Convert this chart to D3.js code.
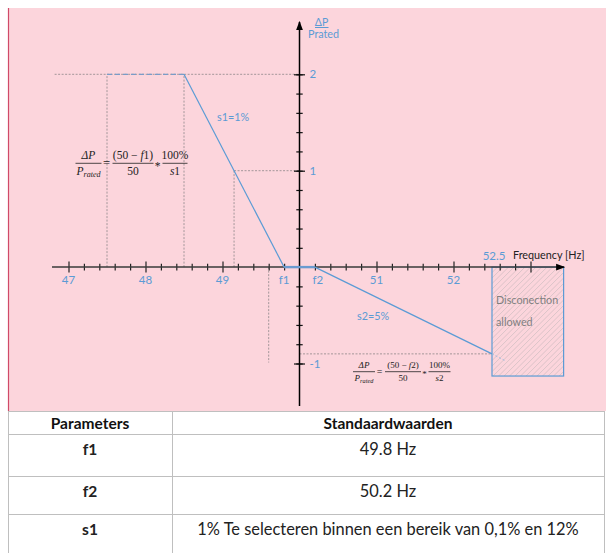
<!DOCTYPE html>
<html>
<head>
<meta charset="utf-8">
<script src="https://cdn.jsdelivr.net/npm/d3@7/dist/d3.min.js"></script>
<style>
  html, body { margin: 0; padding: 0; background: #ffffff; }
  svg { display: block; }
  text { font-family: Lato, "Open Sans", sans-serif; }
  .math { font-family: "Liberation Serif", "DejaVu Serif", serif; }
</style>
</head>
<body>
<svg id="chart" width="606" height="553"></svg>
<script>
// ---- data ----------------------------------------------------------------
const freqMajor = [47, 48, 49, 50, 51, 52, 53];
const freqMinor = d3.range(47, 53.001, 0.2).map(v => +v.toFixed(1));
const freqLabels = [
  { f: 47, text: "47" }, { f: 48, text: "48" }, { f: 49, text: "49" },
  { f: 49.8, text: "f1" }, { f: 50.2, text: "f2" },
  { f: 51, text: "51" }, { f: 52, text: "52" }
];
const powerMajor = [-1, 1, 2];
const powerMinor = d3.range(-1, 2.001, 0.2).map(v => +v.toFixed(1)).filter(v => v !== 0);
const powerLabels = [{ p: 2, text: "2" }, { p: 1, text: "1" }, { p: -1, text: "-1" }];

const plateau     = [{ f: 47.5, p: 2 }, { f: 48.5, p: 2 }];
const droopUnder  = [{ f: 48.5, p: 2 }, { f: 49.8, p: 0 }];
const deadBand    = [{ f: 49.8, p: 0 }, { f: 50.2, p: 0 }];
const droopOver   = [{ f: 50.2, p: 0 }, { f: 52.5, p: -0.9 }];
const droopBeyond = [{ f: 52.5, p: -0.9 }, { f: 52.68, p: -0.975 }];

// construction guides [f0, p0, f1, p1]
const guides = [
  [46.82, 2, 50, 2],
  [47.5, 0, 47.5, 2],
  [48.5, 0, 48.5, 2],
  [49.15, 0, 49.15, 1],
  [49.15, 1, 50, 1],
  [49.6, 0, 49.6, -0.99],
  [50, -0.9, 52.5, -0.9]
];
const disconnectZone = { f0: 52.5, f1: 53.43, p0: 0, p1: -1.13 };

const tableHeader = ["Parameters", "Standaardwaarden"];
const tableRows = [
  ["f1", "49.8 Hz"],
  ["f2", "50.2 Hz"],
  ["s1", "1% Te selecteren binnen een bereik van 0,1% en 12%"]
];

// ---- layout --------------------------------------------------------------
const svg = d3.select("#chart");
const blue = "#5b9bd5";
const x = d3.scaleLinear().domain([47, 53]).range([68.5, 530.5]);
const y = d3.scaleLinear().domain([2, -1]).range([74.3, 363.5]);
const x0 = x(50), y0 = y(0);

// pink panel
svg.append("rect").attr("x", 8).attr("y", 8).attr("width", 598).attr("height", 403)
  .attr("fill", "#fcd5dc");
svg.append("line").attr("x1", 8.5).attr("x2", 8.5).attr("y1", 8).attr("y2", 411)
  .attr("stroke", "#d04a68").attr("stroke-width", 1.2);

const defs = svg.append("defs");
defs.append("marker").attr("id", "arrow").attr("viewBox", "0 0 8 8")
  .attr("refX", 7).attr("refY", 4).attr("markerWidth", 6).attr("markerHeight", 6)
  .attr("orient", "auto")
  .append("path").attr("d", "M0,1 L8,4 L0,7 Z").attr("fill", "#000");

const line = d3.line().x(d => x(d.f)).y(d => y(d.p));

// guides
svg.append("g").selectAll("line").data(guides).join("line")
  .attr("x1", d => x(d[0])).attr("y1", d => y(d[1]))
  .attr("x2", d => x(d[2])).attr("y2", d => y(d[3]))
  .attr("stroke", "#9a8e92").attr("stroke-width", 0.9).attr("stroke-dasharray", "2,1.5");

// disconnection zone: hatched box
const z = disconnectZone;
const zx = x(z.f0), zy = y(z.p0), zw = x(z.f1) - zx, zh = y(z.p1) - zy;
defs.append("clipPath").attr("id", "zoneClip")
  .append("rect").attr("x", zx).attr("y", zy).attr("width", zw).attr("height", zh);
svg.append("g").attr("clip-path", "url(#zoneClip)")
  .selectAll("line").data(d3.range(0, zw + zh, 5.5)).join("line")
  .attr("x1", d => zx + d - zh).attr("y1", zy + zh)
  .attr("x2", d => zx + d).attr("y2", zy)
  .attr("stroke", "#bdb3b7").attr("stroke-width", 0.7).attr("stroke-opacity", 0.75);
svg.append("rect").attr("x", zx).attr("y", zy).attr("width", zw).attr("height", zh)
  .attr("fill", "none").attr("stroke", blue).attr("stroke-width", 1.2);
svg.append("text").attr("x", zx + 4).attr("y", 304).attr("fill", "#7f7f7f")
  .attr("font-size", 10.8).text("Disconection");
svg.append("text").attr("x", zx + 4).attr("y", 326).attr("fill", "#7f7f7f")
  .attr("font-size", 10.8).text("allowed");

// axes: ticks cross the axis line, so draw each tick set up and down
function xTicks(values, size) {
  [d3.axisBottom, d3.axisTop].forEach(ax => {
    const g = svg.append("g").attr("transform", `translate(0,${y0})`)
      .call(ax(x).tickValues(values).tickSize(size).tickFormat(""));
    g.select(".domain").remove();
    g.selectAll("line").attr("stroke", "#222").attr("stroke-width", 1.2);
  });
}
function yTicks(values, size) {
  [d3.axisLeft, d3.axisRight].forEach(ax => {
    const g = svg.append("g").attr("transform", `translate(${x0},0)`)
      .call(ax(y).tickValues(values).tickSize(size).tickFormat(""));
    g.select(".domain").remove();
    g.selectAll("line").attr("stroke", "#111").attr("stroke-width", 1.2);
  });
}
xTicks(freqMinor.filter(v => !freqMajor.includes(v) && v !== 50), 3.3);
xTicks(freqMajor.filter(v => v !== 50), 5.5);
yTicks(powerMinor, 3.2);
yTicks(powerMajor, 5.5);

svg.append("line").attr("x1", 52).attr("x2", 564).attr("y1", y0).attr("y2", y0)
  .attr("stroke", "#3a3a3a").attr("stroke-width", 1.5).attr("marker-end", "url(#arrow)");
svg.append("line").attr("x1", x0).attr("x2", x0).attr("y1", 406).attr("y2", 22)
  .attr("stroke", "#000").attr("stroke-width", 1.5).attr("marker-end", "url(#arrow)");

// characteristic
svg.append("path").datum(plateau).attr("d", line).attr("fill", "none")
  .attr("stroke", "#7a9cc8").attr("stroke-width", 1.3).attr("stroke-dasharray", "5,3");
svg.append("path").datum(droopUnder).attr("d", line).attr("fill", "none")
  .attr("stroke", blue).attr("stroke-width", 1.2);
svg.append("path").datum(deadBand).attr("d", line).attr("fill", "none")
  .attr("stroke", "#6a9bd0").attr("stroke-width", 2.4);
svg.append("path").datum(droopOver).attr("d", line).attr("fill", "none")
  .attr("stroke", blue).attr("stroke-width", 1.2);
svg.append("path").datum(droopBeyond).attr("d", line).attr("fill", "none")
  .attr("stroke", "#9dbde0").attr("stroke-width", 1).attr("stroke-dasharray", "2,2");

// tick labels
svg.append("g").selectAll("text").data(freqLabels).join("text")
  .attr("x", d => x(d.f) + (d.text === "f2" ? 3 : 0)).attr("y", y0 + 16.5)
  .attr("text-anchor", "middle").attr("fill", blue).attr("font-size", 11.5)
  .text(d => d.text);
svg.append("g").selectAll("text").data(powerLabels).join("text")
  .attr("x", x0 + 10).attr("y", d => y(d.p) + 4)
  .attr("fill", blue).attr("font-size", 11.5).text(d => d.text);
svg.append("text").attr("x", x(52.5) + 2).attr("y", 260).attr("text-anchor", "middle")
  .attr("fill", blue).attr("font-size", 11.5).text("52.5");
svg.append("text").attr("x", 513).attr("y", 259).attr("fill", "#222")
  .attr("font-size", 10.8).text("Frequency [Hz]");

// axis title
svg.append("text").attr("x", 321.5).attr("y", 25.5).attr("text-anchor", "middle")
  .attr("fill", blue).attr("font-size", 10.5).text("ΔP");
svg.append("line").attr("x1", 315).attr("x2", 328.5).attr("y1", 27.5).attr("y2", 27.5)
  .attr("stroke", blue).attr("stroke-width", 1);
svg.append("text").attr("x", 308).attr("y", 38).attr("fill", blue)
  .attr("font-size", 10.8).text("Prated");

// slope labels
svg.append("text").attr("x", 217).attr("y", 121).attr("fill", blue)
  .attr("font-size", 10.8).text("s1=1%");
svg.append("text").attr("x", 357).attr("y", 320).attr("fill", blue)
  .attr("font-size", 10.8).text("s2=5%");

// droop formulas
function fraction(g, cx, barY, halfW, size, num, den) {
  const t = g.append("text").attr("class", "math").attr("x", cx).attr("y", barY - size * 0.38)
    .attr("text-anchor", "middle").attr("font-size", size).attr("fill", "#222");
  num.forEach(p => t.append("tspan").attr("font-style", p[1] ? "italic" : "normal").text(p[0]));
  const b = g.append("text").attr("class", "math").attr("x", cx).attr("y", barY + size * 1.02)
    .attr("text-anchor", "middle").attr("font-size", size).attr("fill", "#222");
  den.forEach(p => {
    const s = b.append("tspan").attr("font-style", p[1] ? "italic" : "normal").text(p[0]);
    if (p[2]) s.attr("font-size", size * 0.7).attr("dy", size * 0.2);
  });
  g.append("line").attr("x1", cx - halfW).attr("x2", cx + halfW)
    .attr("y1", barY).attr("y2", barY).attr("stroke", "#222").attr("stroke-width", 0.8);
}
function formula(cfg, idx) {
  const g = svg.append("g");
  const s = cfg.size;
  fraction(g, cfg.c[0], cfg.bar, cfg.w[0], s, [["ΔP", true]], [["P", true], ["rated", true, true]]);
  g.append("text").attr("class", "math").attr("x", cfg.eq).attr("y", cfg.bar + s * 0.35)
    .attr("text-anchor", "middle").attr("font-size", s * 1.1).attr("fill", "#222").text("=");
  fraction(g, cfg.c[1], cfg.bar, cfg.w[1], s, [["(50 − ", false], ["f", true], [idx + ")", false]], [["50", false]]);
  g.append("text").attr("class", "math").attr("x", cfg.star).attr("y", cfg.bar + s * 0.55)
    .attr("text-anchor", "middle").attr("font-size", s).attr("fill", "#222").text("*");
  fraction(g, cfg.c[2], cfg.bar, cfg.w[2], s, [["100%", false]], [["s", true], [idx, false]]);
}
formula({ size: 11.5, bar: 163.3, c: [88.5, 133, 175], w: [13, 20.5, 12.5], eq: 106.5, star: 157.5 }, "1");
formula({ size: 9, bar: 371.7, c: [364, 403, 439.5], w: [11, 18, 11], eq: 379.5, star: 424.5 }, "2");

// parameter table
const colX = [8, 172, 604];
const rowY = [411, 434, 476, 514, 553];
const tbl = svg.append("g");
tbl.append("rect").attr("x", 8).attr("y", 411).attr("width", 596).attr("height", 142).attr("fill", "#fff");
tbl.selectAll("line.h").data(rowY).join("line").attr("class", "h")
  .attr("x1", colX[0]).attr("x2", colX[2]).attr("y1", d => d + 0.5).attr("y2", d => d + 0.5)
  .attr("stroke", "#bfbfbf");
tbl.selectAll("line.v").data(colX).join("line").attr("class", "v")
  .attr("x1", d => d + 0.5).attr("x2", d => d + 0.5).attr("y1", rowY[0]).attr("y2", 553)
  .attr("stroke", "#bfbfbf");
const colC = [(colX[0] + colX[1]) / 2, (colX[1] + colX[2]) / 2];
tableHeader.forEach((h, i) => tbl.append("text").attr("x", colC[i]).attr("y", 428.5)
  .attr("text-anchor", "middle").attr("font-size", 15.5).attr("font-weight", "bold")
  .attr("fill", "#111").text(h));
tableRows.forEach((r, j) => r.forEach((v, i) => tbl.append("text")
  .attr("x", colC[i]).attr("y", rowY[j + 1] + 20.5)
  .attr("text-anchor", "middle").attr("font-size", i === 0 ? 15.5 : 16.4)
  .attr("font-weight", i === 0 ? "bold" : "normal").attr("fill", "#222").text(v)));
</script>
</body>
</html>
